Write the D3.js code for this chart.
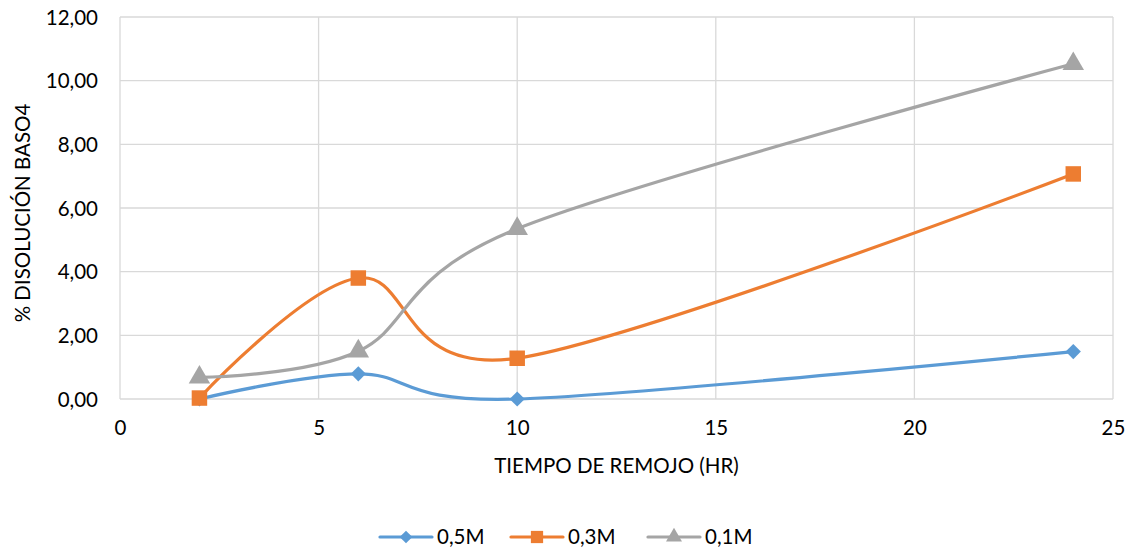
<!DOCTYPE html>
<html>
<head>
<meta charset="utf-8">
<script src="https://cdn.jsdelivr.net/npm/d3@7"></script>
<style>
  body { margin: 0; background: #fff; }
  svg text { font-family: Lato, "Open Sans", sans-serif; fill: #000; }
</style>
</head>
<body>
<svg id="chart" width="1140" height="552"></svg>
<script>
// Tiempo de remojo (horas)
const hours = [2, 6, 10, 24];
// % disolución de BaSO4 por concentración
const serie05 = [0.00, 0.79, 0.00, 1.49];
const serie03 = [0.03, 3.80, 1.28, 7.07];
const serie01 = [0.68, 1.50, 5.35, 10.53];
const seriesNames = ["0,5M", "0,3M", "0,1M"];
const seriesColors = ["#5B9BD5", "#ED7D31", "#A5A5A5"];
const xTicks = [0, 5, 10, 15, 20, 25];
const yTicks = [0, 2, 4, 6, 8, 10, 12];

const fmt = v => v.toFixed(2).replace(".", ",");
const FS = 20.5;

const svg = d3.select("#chart");
const plotLeft = 120, plotRight = 1113, plotTop = 17, plotBottom = 399;

const x = d3.scaleLinear().domain([0, 25]).range([plotLeft, plotRight]);
const y = d3.scaleLinear().domain([0, 12]).range([plotBottom, plotTop]);

// Marcadores: rombo (cuadrado girado), cuadrado y triángulo
const markers = [
  { type: d3.symbolSquare, size: 115, rotate: 45, legendSize: 80 },
  { type: d3.symbolSquare, size: 240, rotate: 0, legendSize: 150 },
  { type: d3.symbolTriangle, size: 200, rotate: 0, legendSize: 110 }
];

// Cuadrícula
svg.append("g").selectAll("line").data(yTicks).join("line")
  .attr("x1", plotLeft).attr("x2", plotRight)
  .attr("y1", d => y(d)).attr("y2", d => y(d))
  .attr("stroke", "#D9D9D9").attr("stroke-width", 1.3);
svg.append("g").selectAll("line").data(xTicks).join("line")
  .attr("y1", plotTop).attr("y2", plotBottom)
  .attr("x1", d => x(d)).attr("x2", d => x(d))
  .attr("stroke", "#D9D9D9").attr("stroke-width", 1.3);

// Ejes
const yAxis = svg.append("g").attr("transform", `translate(${plotLeft},0)`)
  .call(d3.axisLeft(y).tickValues(yTicks).tickFormat(fmt).tickSize(0).tickPadding(22));
yAxis.select(".domain").remove();
yAxis.selectAll("text").attr("font-size", FS).attr("dy", "0.35em");

const xAxis = svg.append("g").attr("transform", `translate(0,${plotBottom})`)
  .call(d3.axisBottom(x).tickValues(xTicks).tickFormat(d3.format("d")).tickSize(0).tickPadding(21));
xAxis.select(".domain").remove();
xAxis.selectAll("text").attr("font-size", FS);

// Títulos de los ejes
svg.append("text")
  .attr("transform", `translate(30,${(plotTop + plotBottom) / 2 + 5}) rotate(-90)`)
  .attr("text-anchor", "middle").attr("font-size", FS)
  .text("% DISOLUCIÓN BASO4");
svg.append("text")
  .attr("x", (plotLeft + plotRight) / 2).attr("y", 473)
  .attr("text-anchor", "middle").attr("font-size", FS)
  .text("TIEMPO DE REMOJO (HR)");

// Series
const allSeries = [serie05, serie03, serie01];
const line = d3.line()
  .x(d => x(d[0])).y(d => y(d[1]))
  .curve(d3.curveCatmullRom.alpha(0));

allSeries.forEach((vals, i) => {
  const pts = hours.map((h, j) => [h, vals[j]]);
  svg.append("path").datum(pts)
    .attr("d", line).attr("fill", "none")
    .attr("stroke", seriesColors[i]).attr("stroke-width", 3.2)
    .attr("stroke-linejoin", "round").attr("stroke-linecap", "round");
});
allSeries.forEach((vals, i) => {
  const m = markers[i];
  svg.append("g").selectAll("path").data(hours.map((h, j) => [h, vals[j]])).join("path")
    .attr("transform", d => `translate(${x(d[0])},${y(d[1])}) rotate(${m.rotate})`)
    .attr("d", d3.symbol().type(m.type).size(m.size))
    .attr("fill", seriesColors[i]);
});

// Leyenda
const legendX = [380, 511, 648];
const legend = svg.append("g");
seriesNames.forEach((name, i) => {
  const m = markers[i];
  const g = legend.append("g").attr("transform", `translate(${legendX[i]},537)`);
  g.append("line").attr("x1", 0).attr("x2", 52)
    .attr("stroke", seriesColors[i]).attr("stroke-width", 3.2).attr("stroke-linecap", "round");
  g.append("path").attr("transform", `translate(26,0) rotate(${m.rotate})`)
    .attr("d", d3.symbol().type(m.type).size(m.legendSize))
    .attr("fill", seriesColors[i]);
  g.append("text").attr("x", 57).attr("dy", "0.35em").attr("font-size", FS).text(name);
});
</script>
</body>
</html>
